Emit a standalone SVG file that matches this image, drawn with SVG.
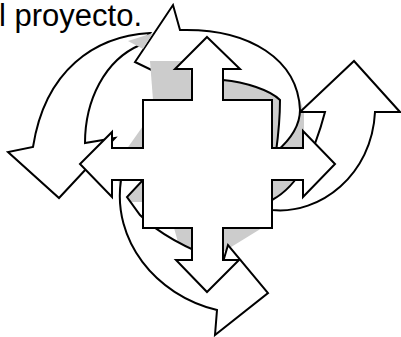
<svg xmlns="http://www.w3.org/2000/svg" width="401" height="337" viewBox="0 0 401 337">
<style>
.a{fill:#fff;stroke:#000;stroke-width:2;stroke-linejoin:miter}
.g{fill:#cccccc;stroke:none}
.t{font-family:"Liberation Sans",Arial,sans-serif;font-size:31px;fill:#000}
</style>
<rect width="401" height="337" fill="#fff"/>
<text class="t" x="-1" y="26">l proyecto.</text>
<g id="gray-back">
<polygon class="g" points="223,78 300,100 304,112 304,148 272,148 272,100 223,100"/>
<polygon class="g" points="118,178 143,178 143,202 122,202"/>
<polygon class="g" points="174,228 192,228 192,260 183,260"/>
<polygon class="g" points="223,228 262,228 223,252"/>
<polygon class="g" points="272,180 302,180 272,206"/>
<polygon class="g" points="126,150 143,126 143,150"/>
</g>
<g id="connectors">
<path id="arrow-left" class="a" d="M150,33 C95,36 45,70 33,147 L8,152 L59,198 L115,138 L85,143 C85,100 105,60 140,45 Z"/>
<path id="arrow-right" class="a" d="M272,210 C320,215 372,175 375,112 L400,112 L354,61 L300,112 L325,112 C315,150 300,185 272,200 Z"/>
<path id="arrow-top" class="a" d="M276,152 C290,140 300,125 300,110 C298,60 250,28 180,30 L173,5 L135,62 L197,92 L223,80 C245,82 270,90 280,100 C280,115 279,130 276,152 Z"/>
<path id="arrow-bottom" class="a" d="M121,180 C112,240 155,295 217,310 L215,335 L268,293 L228,245 L223,262 C190,250 160,235 140,215 L127,197 L143,180 Z"/>
</g>
<g id="gray-front">
<polygon class="g" points="150,61 190,61 192,100 153,100" stroke="#000" stroke-width="2"/>
<polygon class="g" points="128,41 153,33 143,49"/>
</g>
<g id="quad-arrow">
<path class="a" d="M207,37 L240,69 L223,69 L223,100 L272,100 L272,148 L303,148 L303,131 L335,164 L303,197 L303,180 L272,180 L272,228 L223,228 L223,260 L239,260 L207,292 L176,260 L192,260 L192,228 L143,228 L143,180 L112,180 L112,197 L80,164 L112,132 L112,148 L143,148 L143,100 L192,100 L192,69 L175,69 Z"/>
</g>
</svg>
